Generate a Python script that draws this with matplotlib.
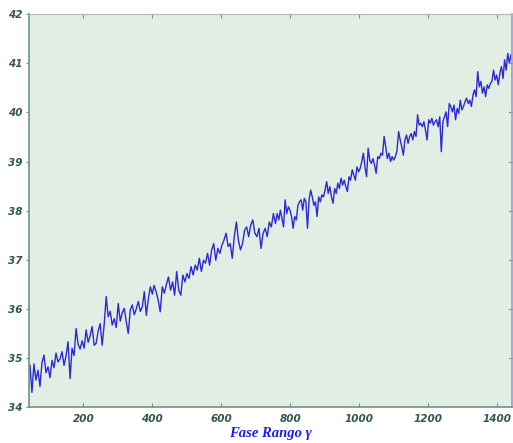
import numpy as np
import matplotlib
matplotlib.use("Agg")
import matplotlib.pyplot as plt

# ------------------------------
# Values, in four stretches of x
# ------------------------------
X_SPANS = [(45, 400), (405, 757), (762, 1100), (1105, 1440)]

seg1 = [34.85, 34.30, 34.88, 34.55, 34.75, 34.42, 34.90, 35.06, 34.70, 34.82,
        34.60, 34.95, 34.80, 35.10, 34.92, 34.98, 35.13, 34.85, 35.05, 35.33,
        34.58, 35.20, 35.05, 35.60, 35.28, 35.18, 35.35, 35.20, 35.57, 35.32,
        35.45, 35.64, 35.26, 35.30, 35.55, 35.70, 35.26, 35.68, 36.25, 35.84,
        35.95, 35.67, 35.80, 35.62, 36.11, 35.75, 35.92, 36.01, 35.74, 35.50,
        35.98, 36.08, 35.88, 36.00, 36.15, 35.95, 36.04, 36.35, 35.87, 36.20,
        36.45, 36.30]

seg2 = [36.48, 36.35, 36.18, 35.94, 36.45, 36.32, 36.50, 36.65, 36.38, 36.55,
        36.28, 36.76, 36.38, 36.28, 36.69, 36.55, 36.72, 36.62, 36.86, 36.69,
        36.89, 36.79, 37.03, 36.76, 36.99, 36.93, 37.13, 36.89, 37.20, 37.33,
        36.99, 37.23, 37.13, 37.30, 37.40, 37.54, 37.27, 37.33, 37.03, 37.47,
        37.77, 37.40, 37.20, 37.33, 37.60, 37.67, 37.47, 37.71, 37.81, 37.54,
        37.47, 37.64, 37.23, 37.54, 37.64, 37.47, 37.77, 37.67, 37.94, 37.74]

seg3 = [37.94, 37.81, 38.01, 37.84, 37.67, 38.22, 37.94, 38.08, 38.01, 37.88,
        37.64, 37.88, 37.81, 38.11, 38.18, 38.22, 38.01, 38.25, 38.18, 37.64,
        38.22, 38.42, 38.28, 38.11, 38.18, 37.88, 38.28, 38.18, 38.32, 38.28,
        38.42, 38.59, 38.35, 38.49, 38.28, 38.15, 38.45, 38.35, 38.56, 38.45,
        38.66, 38.52, 38.62, 38.49, 38.39, 38.69, 38.62, 38.83, 38.73, 38.62,
        38.89, 38.79, 38.86, 39.00, 39.17, 38.89, 38.69, 39.27, 39.03, 38.96,
        39.06, 38.93, 38.76, 39.10, 39.06, 39.17, 39.13, 39.51, 39.30, 39.06,
        39.17, 39.00, 39.10, 39.03]

seg4 = [39.10, 39.23, 39.61, 39.44, 39.30, 39.13, 39.44, 39.54, 39.37, 39.51,
        39.57, 39.44, 39.61, 39.51, 39.95, 39.74, 39.78, 39.71, 39.81, 39.64,
        39.44, 39.85, 39.78, 39.88, 39.74, 39.81, 39.85, 39.71, 39.91, 39.20,
        39.81, 39.91, 40.01, 39.71, 40.18, 40.12, 40.01, 40.15, 39.85, 40.08,
        39.98, 40.25, 40.05, 40.12, 40.22, 40.29, 40.18, 40.25, 40.12, 40.35,
        40.46, 40.32, 40.83, 40.52, 40.63, 40.39, 40.52, 40.32, 40.56, 40.49,
        40.59, 40.63, 40.86, 40.66, 40.76, 40.56, 40.80, 40.93, 40.69, 41.07,
        40.86, 41.20, 41.00, 41.17]

X_TICKS = [200, 400, 600, 800, 1000, 1200, 1400]
Y_TICKS = [34, 35, 36, 37, 38, 39, 40, 41, 42]

xs, ys = [], []
for (x0, x1), seg in zip(X_SPANS, [seg1, seg2, seg3, seg4]):
    xs.append(np.linspace(x0, x1, len(seg)))
    ys.append(np.array(seg))
x = np.concatenate(xs)
y = np.concatenate(ys)

# ------------------------------
# Figure
# ------------------------------
fig = plt.figure(figsize=(5.13, 4.43), dpi=100)
ax = fig.add_axes([0.057, 0.081, 0.941, 0.887])
ax.set_facecolor('#e2ede4')

ax.plot(x, y, color='#2a2ad6', linewidth=1.0)

ax.set_xlim(43, 1443)
ax.set_ylim(34, 42)
ax.set_xticks(X_TICKS)
ax.set_yticks(Y_TICKS)

tick_font = dict(family=['Liberation Sans Narrow', 'DejaVu Sans'],
                 weight='bold', style='italic', size=7.5, color='#2f5a46')
ax.set_xticklabels([str(t) for t in X_TICKS], **tick_font)
ax.set_yticklabels([str(t) for t in Y_TICKS], **tick_font)

ax.tick_params(axis='x', direction='in', length=3, color='#6f9680',
               top=True, pad=5)
ax.tick_params(axis='y', direction='out', length=2.5, color='#6f9680',
               right=False, pad=2)
# inward ticks on the right side, like the box of the original
for t in Y_TICKS[1:-1]:
    ax.plot([1443 - 10, 1443], [t, t], color='#6f9680', lw=0.8,
            clip_on=False)

for side in ['left', 'bottom']:
    ax.spines[side].set_color('#6f9680')
    ax.spines[side].set_linewidth(1.2)
ax.spines['top'].set_color('#a9bdb0')
ax.spines['right'].set_color('#9a9ad2')
ax.spines['right'].set_linewidth(1.2)

ax.set_xlabel('Fase Rango γ', fontsize=10.5, color='#1c1ce6',
              family=['Liberation Serif', 'DejaVu Serif'],
              weight='bold', style='italic', labelpad=2)

fig.savefig('out.png', dpi=100)
